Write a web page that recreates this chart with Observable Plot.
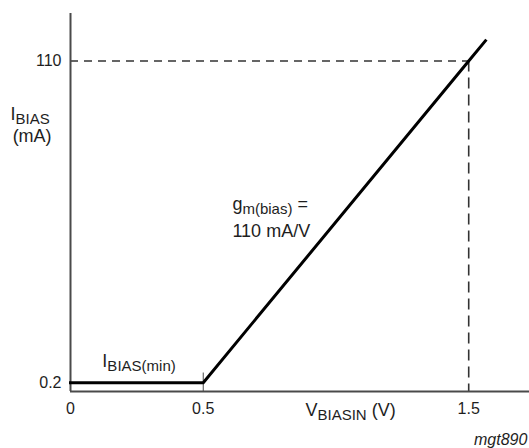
<!DOCTYPE html>
<html>
<head>
<meta charset="utf-8">
<script src="https://cdn.jsdelivr.net/npm/d3@7"></script>
<script src="https://cdn.jsdelivr.net/npm/@observablehq/plot@0.6"></script>
<style>
  html, body { margin: 0; padding: 0; background: #fff; }
  #chart { width: 529px; height: 448px; overflow: hidden; }
</style>
</head>
<body>
<div id="chart"></div>
<script>
// Transfer characteristic
const vBiasIn = [0, 0.5, 1.5, 1.563];        // V
const iBias   = [0.2, 0.2, 110, 116.9];      // mA
const xTicks = [0, 0.5, 1.5];
const xTickLabels = ["0", "0.5", "1.5"];
const yTicks = [0.2, 110];
const yTickLabels = ["0.2", "110"];
const refV = [1.5];
const refI = [110];

const xMax = 1.729, yMin = -2.8, yMax = 126.2;
const points = vBiasIn.map((v, i) => ({v, i: iBias[i]}));
const font = "Liberation Sans, Arial, Helvetica, sans-serif";
const txt = "#1e1e1e";
const axisColor = "#4a4a4a";

function note(label, x, y, opts = {}) {
  return Plot.text([{label, x, y}], {
    x: "x", y: "y", text: "label",
    textAnchor: "start", lineAnchor: "bottom",
    fill: txt, fontSize: 18, ...opts
  });
}

const chart = Plot.plot({
  width: 529,
  height: 448,
  marginLeft: 70,
  marginRight: 0,
  marginTop: 13,
  marginBottom: 57,
  style: {fontFamily: font, fontSize: "16px", background: "#fff", overflow: "visible"},
  x: {domain: [0, xMax], axis: null},
  y: {domain: [yMin, yMax], axis: null},
  marks: [
    // dashed reference lines at (1.5 V, 110 mA)
    Plot.ruleY(refI, {x1: 0, x2: refV[0], stroke: "#333", strokeWidth: 1.6, strokeDasharray: "8,6"}),
    Plot.ruleX(refV, {y1: refI[0], y2: yMin, stroke: "#333", strokeWidth: 1.6, strokeDasharray: "11,6"}),
    // tick at 0.5 V
    Plot.ruleX([0.5], {y1: yMin, y2: 3.5, stroke: axisColor, strokeWidth: 1}),
    // axis lines
    Plot.ruleX([0], {stroke: axisColor, strokeWidth: 2}),
    Plot.ruleY([yMin], {x1: 0, x2: xMax, stroke: axisColor, strokeWidth: 2}),
    // characteristic
    Plot.line(points, {x: "v", y: "i", stroke: "#000", strokeWidth: 3, strokeLinecap: "square"}),
    // tick labels
    Plot.axisX(xTicks, {tickSize: 0, tickPadding: 11, fontSize: 16, fill: txt,
      tickFormat: d => xTickLabels[xTicks.indexOf(d)]}),
    Plot.axisY(yTicks, {tickSize: 0, tickPadding: 9, fontSize: 16, fill: txt,
      tickFormat: d => yTickLabels[yTicks.indexOf(d)]}),
    // labels
    note("I_{BIAS}", -0.226, 89.7),
    note("(mA)", -0.218, 82.3),
    note("V_{BIASIN} (V)", 0.885, -11.2),
    note("I_{BIAS(min)}", 0.12, 5.6),
    note("g_{m(bias)} =", 0.61, 59.2),
    note("110 mA/V", 0.61, 50.0),
    note("mgt890", 1.721, -21.1, {fontSize: 16, fontStyle: "italic", textAnchor: "end"})
  ]
});

// turn "_{...}" into subscript tspans
function richify(root) {
  root.querySelectorAll("text").forEach(t => {
    const s = t.textContent;
    if (!s.includes("_{")) return;
    t.textContent = "";
    const parts = s.split(/_\{([^}]*)\}/);
    let shifted = false;
    parts.forEach((p, k) => {
      if (!p) return;
      const ts = document.createElementNS("http://www.w3.org/2000/svg", "tspan");
      ts.textContent = p;
      const sub = k % 2 === 1;
      if (sub && !shifted) { ts.setAttribute("dy", 4); shifted = true; }
      else if (!sub && shifted) { ts.setAttribute("dy", -4); shifted = false; }
      if (sub) ts.setAttribute("font-size", 15);
      t.appendChild(ts);
    });
  });
}
richify(chart);
document.getElementById("chart").appendChild(chart);
</script>
</body>
</html>
